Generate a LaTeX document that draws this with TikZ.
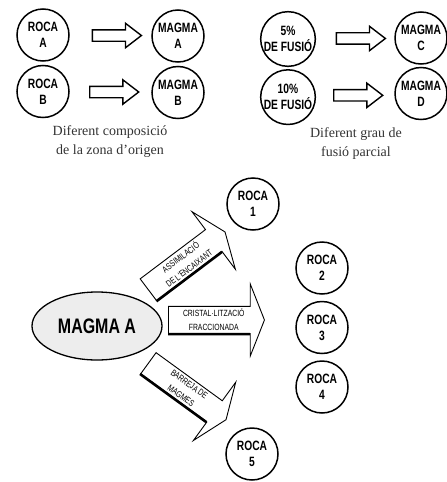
\documentclass[tikz,border=0pt]{standalone}
\usepackage{fontspec}
\setmainfont{Liberation Serif}
\newfontfamily\handfont[FakeStretch=0.76]{Liberation Sans}
\usetikzlibrary{positioning, calc, shapes.geometric, shapes.arrows}
\definecolor{magfill}{HTML}{EDEDED}
\tikzset{
  roc/.style      = {circle, draw, line width=1.5pt, minimum size=52pt, inner sep=0pt, align=center,
                     font=\handfont\bfseries\fontsize{13.5}{16}\selectfont},
  hollow/.style   = {single arrow, draw, line width=1.4pt, minimum height=49pt, minimum width=23pt,
                     single arrow head extend=6.5pt, single arrow tip angle=75,
                     inner xsep=0pt, inner ysep=5pt},
  blockarr/.style = {single arrow, draw, fill=white, line width=0.9pt, minimum height=96pt,
                     minimum width=72pt, single arrow head extend=22pt, single arrow tip angle=137,
                     align=center, inner xsep=3pt, inner ysep=2pt,
                     font=\handfont\fontsize{9}{14}\selectfont},
  shadowline/.style = {line width=2.6pt},
  note/.style     = {align=center, text=black!80, font=\fontsize{14}{19}\selectfont}
}

\begin{document}
\begin{tikzpicture}[x=1pt, y=1pt]
  \useasboundingbox (0,0) rectangle (447,-482);

  % different source composition
  \node[roc] (rocaA) at (43,-35) {ROCA\\A};
  \node[roc, below=3pt of rocaA] (rocaB) {ROCA\\B};
  \node[roc] (magA) at (178,-36) {MAGMA\\A};
  \node[roc, below=3pt of magA] (magB) {MAGMA\\B};
  \node[hollow] (arA) at ($(rocaA)!0.52!(magA)$) {};
  \node[hollow] (arB) at ($(rocaB)!0.5!(magB)$) {};
  \node[note] (capL) at (110,-142) {Diferent composició\\de la zona d'origen};

  % different degree of partial melting
  \node[roc] (fus5) at (288,-39) {5\%\\DE FUSIÓ};
  \node[roc, below=2pt of fus5] (fus10) {10\%\\DE FUSIÓ};
  \node[roc] (magC) at (421,-38) {MAGMA\\C};
  \node[roc, below=2pt of magC] (magD) {MAGMA\\D};
  \node[hollow] (arC) at ($(fus5)!0.52!(magC)$) {};
  \node[hollow] (arD) at ($(fus10)!0.5!(magD)$) {};
  \node[note] (capR) at (356,-144) {Diferent grau de\\fusió parcial};

  % evolution of magma A
  \node[ellipse, draw, fill=magfill, line width=1.3pt, minimum width=130pt, minimum height=68pt,
        font=\handfont\bfseries\fontsize{21}{24}\selectfont] (magma) at (97,-326) {MAGMA A};
  \node[roc] (roca1) at (253,-204) {ROCA\\1};
  \node[roc] (roca2) at (322,-268) {ROCA\\2};
  \node[roc, below=6pt of roca2] (roca3) {ROCA\\3};
  \node[roc, below=6pt of roca3] (roca4) {ROCA\\4};
  \node[roc] (roca5) at (252,-454) {ROCA\\5};

  \node[blockarr, rotate=37, anchor=tail] (assim) at (148,-290) {ASSIMILACIÓ\\DE L'ENCAIXANT};
  \node[blockarr, anchor=tail] (cristal) at (168,-320) {CRISTAL·LITZACIÓ\\FRACCIONADA};
  \node[blockarr, rotate=-36, anchor=tail] (barreja) at (148,-363) {BARREJA DE\\MAGMES};
  \draw[shadowline] (assim.before tail) -- (assim.after head);
  \draw[shadowline] (cristal.before tail) -- (cristal.after head);
  \draw[shadowline] (barreja.before tail) -- (barreja.after head);
\end{tikzpicture}
\end{document}
